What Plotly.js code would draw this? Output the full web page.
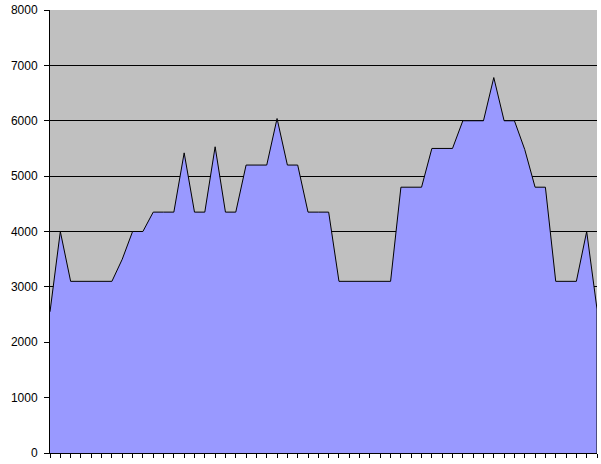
<!DOCTYPE html>
<html>
<head>
<meta charset="utf-8">
<script src="https://cdn.plot.ly/plotly-3.0.1.min.js"></script>
<style>html,body{margin:0;padding:0;background:#fff;}#chart{width:601px;height:464px;}</style>
</head>
<body>
<div id="chart"></div>
<script>
// 54 categories, unlabeled
var categories = [];
for (var i = 1; i <= 54; i++) categories.push(i);

var values = [
  2550, 4000, 3100, 3100, 3100, 3100, 3100, 3500, 4000, 4000,
  4350, 4350, 4350, 5420, 4350, 4350, 5530, 4350, 4350, 5200,
  5200, 5200, 6040, 5200, 5200, 4350, 4350, 4350, 3100, 3100,
  3100, 3100, 3100, 3100, 4800, 4800, 4800, 5500, 5500, 5500,
  6000, 6000, 6000, 6780, 6000, 6000, 5480, 4800, 4800, 3100,
  3100, 3100, 4000, 2600
];

var yTickVals = [0, 1000, 2000, 3000, 4000, 5000, 6000, 7000, 8000];
var yTickText = ['0', '1000', '2000', '3000', '4000', '5000', '6000', '7000', '8000'];

var trace = {
  x: categories,
  y: values,
  type: 'scatter',
  mode: 'lines',
  fill: 'tozeroy',
  fillcolor: '#9999FF',
  line: {color: '#000000', width: 1},
  hoverinfo: 'skip'
};

var layout = {
  width: 601,
  height: 464,
  margin: {l: 50, r: 4, t: 10, b: 11, pad: 0},
  paper_bgcolor: '#FFFFFF',
  plot_bgcolor: '#C0C0C0',
  showlegend: false,
  font: {family: 'Liberation Sans, Arial, sans-serif', size: 12, color: '#000000'},
  xaxis: {
    range: [categories[0], categories[categories.length - 1]],
    tickmode: 'linear', tick0: 1, dtick: 1,
    showticklabels: false,
    ticks: 'outside', ticklen: 4, tickwidth: 1, tickcolor: '#000000',
    showline: true, linecolor: '#000000', linewidth: 1,
    showgrid: false, zeroline: false, fixedrange: true
  },
  yaxis: {
    range: [0, 8000],
    tickmode: 'array', tickvals: yTickVals, ticktext: yTickText,
    ticks: 'outside', ticklen: 5, tickwidth: 1, tickcolor: '#000000',
    ticklabelstandoff: 4,
    showline: true, linecolor: '#000000', linewidth: 1,
    showgrid: true, gridcolor: '#000000', gridwidth: 1,
    zeroline: false, fixedrange: true,
    tickfont: {family: 'Liberation Sans, Arial, sans-serif', size: 12, color: '#000000'}
  },
  shapes: [{
    type: 'line', xref: 'x', yref: 'y',
    x0: categories[categories.length - 1], x1: categories[categories.length - 1],
    y0: 0, y1: values[values.length - 1],
    line: {color: '#000000', width: 1}
  }]
};

Plotly.newPlot('chart', [trace], layout, {displayModeBar: false, staticPlot: true});
</script>
</body>
</html>
